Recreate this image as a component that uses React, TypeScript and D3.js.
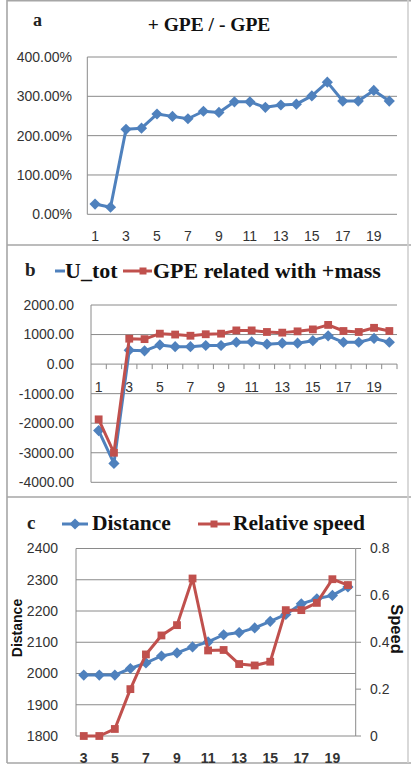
import React from "react";
import * as d3 from "d3";

// ---------- DATA ----------
const catsAB = ["1","2","3","4","5","6","7","8","9","10","11","12","13","14","15","16","17","18","19","20"];
const ratioPct = [26, 18, 216, 219, 255, 249, 243, 262, 259, 286, 286, 272, 278, 280, 301, 336, 288, 288, 315, 288];
const ticksA = [0, 100, 200, 300, 400];

const uTot = [-2250, -3360, 470, 450, 650, 590, 590, 630, 630, 740, 750, 674, 707, 707, 793, 957, 739, 739, 870, 739];
const gpePos = [-1870, -3000, 860, 845, 1030, 1000, 960, 1010, 1030, 1140, 1140, 1087, 1065, 1108, 1174, 1326, 1120, 1087, 1228, 1120];
const ticksB = [-4000, -3000, -2000, -1000, 0, 1000, 2000];

const catsC = ["3","4","5","6","7","8","9","10","11","12","13","14","15","16","17","18","19","20"];
const distance = [1995, 1995, 1995, 2016, 2034, 2056, 2066, 2085, 2101, 2124, 2131, 2146, 2167, 2189, 2223, 2239, 2250, 2277];
const speed = [0, 0, 0.03, 0.2, 0.348, 0.429, 0.473, 0.672, 0.365, 0.367, 0.307, 0.301, 0.317, 0.537, 0.537, 0.568, 0.669, 0.644];
const ticksCL = [1800, 1900, 2000, 2100, 2200, 2300, 2400];
const ticksCR = [0, 0.2, 0.4, 0.6, 0.8];

// ---------- STYLE ----------
const BLUE = "#4F81BD";
const RED = "#C0504D";
const GRID = "#8a8a8a";
const TICKTXT = "#333333";
const SANS = "'Liberation Sans', Arial, sans-serif";
const SERIF = "'Liberation Serif', 'Times New Roman', serif";

const diamond = (x: number, y: number, r = 5.6) => `M${x},${y - r}L${x + r},${y}L${x},${y + r}L${x - r},${y}Z`;

function Series({ xs, ys, color, marker }: { xs: number[]; ys: number[]; color: string; marker: "d" | "s" }) {
  const pts = xs.map((x, i) => [x, ys[i]] as [number, number]);
  const line = d3.line()(pts) || "";
  return (
    <g>
      <path d={line} fill="none" stroke={color} strokeWidth={3} strokeLinejoin="round" />
      {pts.map(([x, y], i) =>
        marker === "d" ? (
          <path key={i} d={diamond(x, y)} fill={color} />
        ) : (
          <rect key={i} x={x - 3.9} y={y - 3.9} width={7.8} height={7.8} fill={color} />
        )
      )}
    </g>
  );
}

function PanelA() {
  const x = d3.scaleBand().domain(catsAB).range([87.3, 397]);
  const y = d3.scaleLinear().domain([0, 400]).range([214.3, 57]);
  const cx = (c: string) => (x(c) as number) + x.bandwidth() / 2;
  return (
    <g>
      <text x={33} y={26} fontFamily={SERIF} fontWeight="bold" fontSize={18} fill="#222">a</text>
      <text x={209} y={31} textAnchor="middle" fontFamily={SERIF} fontWeight="bold" fontSize={19.5} fill="#111">+ GPE / - GPE</text>
      {ticksA.map((t) => (
        <g key={t}>
          <line x1={87.3} x2={397} y1={y(t)} y2={y(t)} stroke={GRID} strokeWidth={1} />
          <text x={72} y={y(t)} dy="0.35em" textAnchor="end" fontFamily={SANS} fontSize={14} fill={TICKTXT}>
            {t.toFixed(2)}%
          </text>
        </g>
      ))}
      <line x1={87.3} x2={87.3} y1={57} y2={214.3} stroke={GRID} />
      {catsAB.map((c, i) =>
        i % 2 === 0 ? (
          <text key={c} x={cx(c)} y={236} dy="0.35em" textAnchor="middle" fontFamily={SANS} fontSize={14} fill={TICKTXT}>{c}</text>
        ) : null
      )}
      <Series xs={catsAB.map(cx)} ys={ratioPct.map((v) => y(v))} color={BLUE} marker="d" />
    </g>
  );
}

function PanelB() {
  const x = d3.scaleBand().domain(catsAB).range([91, 397]);
  const y = d3.scaleLinear().domain([-4000, 2000]).range([482.3, 305]);
  const cx = (c: string) => (x(c) as number) + x.bandwidth() / 2;
  const y0 = y(0);
  return (
    <g>
      <text x={25} y={276} fontFamily={SERIF} fontWeight="bold" fontSize={19} fill="#222">b</text>
      <line x1={55} x2={65} y1={271} y2={271} stroke={BLUE} strokeWidth={3} />
      <text x={65} y={278} fontFamily={SERIF} fontWeight="bold" fontSize={22} fill="#111">U_tot</text>
      <line x1={123} x2={152} y1={271} y2={271} stroke={RED} strokeWidth={3} />
      <rect x={139.5} y={267.5} width={7} height={7} fill={RED} />
      <text x={153} y={278} fontFamily={SERIF} fontWeight="bold" fontSize={22} fill="#111">GPE related with +mass</text>
      {ticksB.map((t) => (
        <g key={t}>
          <line x1={91} x2={397} y1={y(t)} y2={y(t)} stroke={GRID} strokeWidth={1} />
          <text x={74} y={y(t)} dy="0.35em" textAnchor="end" fontFamily={SANS} fontSize={14} fill={TICKTXT}>
            {t.toFixed(2)}
          </text>
        </g>
      ))}
      <line x1={91} x2={91} y1={305} y2={482.3} stroke={GRID} />
      {catsAB.map((c) => (
        <line key={"t" + c} x1={(x(c) as number) + x.bandwidth()} x2={(x(c) as number) + x.bandwidth()} y1={y0} y2={y0 + 5} stroke={GRID} />
      ))}
      {catsAB.map((c, i) =>
        i % 2 === 0 ? (
          <text key={c} x={cx(c)} y={387} dy="0.35em" textAnchor="middle" fontFamily={SANS} fontSize={14} fill={TICKTXT}>{c}</text>
        ) : null
      )}
      <Series xs={catsAB.map(cx)} ys={uTot.map((v) => y(v))} color={BLUE} marker="d" />
      <Series xs={catsAB.map(cx)} ys={gpePos.map((v) => y(v))} color={RED} marker="s" />
    </g>
  );
}

function PanelC() {
  const x = d3.scaleBand().domain(catsC).range([76, 355.7]);
  const yl = d3.scaleLinear().domain([1800, 2400]).range([736, 548.5]);
  const yr = d3.scaleLinear().domain([0, 0.8]).range([736, 548.5]);
  const cx = (c: string) => (x(c) as number) + x.bandwidth() / 2;
  return (
    <g>
      <text x={27} y={529} fontFamily={SERIF} fontWeight="bold" fontSize={19} fill="#222">c</text>
      <line x1={62} x2={88} y1={524} y2={524} stroke={BLUE} strokeWidth={3} />
      <path d={diamond(75, 524)} fill={BLUE} />
      <text x={92} y={530} fontFamily={SERIF} fontWeight="bold" fontSize={21.5} fill="#111">Distance</text>
      <line x1={198} x2={230} y1={524} y2={524} stroke={RED} strokeWidth={3} />
      <rect x={210.5} y={520.5} width={7} height={7} fill={RED} />
      <text x={233} y={530} fontFamily={SERIF} fontWeight="bold" fontSize={21.5} fill="#111">Relative speed</text>
      {ticksCL.map((t) => (
        <g key={t}>
          <line x1={76} x2={355.7} y1={yl(t)} y2={yl(t)} stroke={GRID} strokeWidth={1} />
          <text x={58} y={yl(t)} dy="0.35em" textAnchor="end" fontFamily={SANS} fontSize={14} fill={TICKTXT}>{t}</text>
        </g>
      ))}
      {ticksCR.map((t) => (
        <g key={t}>
          <line x1={355.7} x2={361} y1={yr(t)} y2={yr(t)} stroke={GRID} />
          <text x={370} y={yr(t)} dy="0.35em" fontFamily={SANS} fontSize={14} fill={TICKTXT}>{t}</text>
        </g>
      ))}
      <line x1={76} x2={76} y1={548.5} y2={736} stroke={GRID} />
      <line x1={355.7} x2={355.7} y1={548.5} y2={736} stroke={GRID} />
      {catsC.map((c, i) =>
        i % 2 === 0 ? (
          <text key={c} x={cx(c)} y={758} dy="0.35em" textAnchor="middle" fontFamily={SANS} fontWeight="bold" fontSize={14} fill="#333">{c}</text>
        ) : null
      )}
      <text transform="translate(17,628) rotate(-90)" textAnchor="middle" dy="0.35em" fontFamily={SANS} fontWeight="bold" fontSize={14} fill="#111">Distance</text>
      <text transform="translate(397,629) rotate(90)" textAnchor="middle" dy="0.35em" fontFamily={SANS} fontWeight="bold" fontSize={16.5} fill="#111">Speed</text>
      <Series xs={catsC.map(cx)} ys={distance.map((v) => yl(v))} color={BLUE} marker="d" />
      <Series xs={catsC.map(cx)} ys={speed.map((v) => yr(v))} color={RED} marker="s" />
    </g>
  );
}

export default function App() {
  return (
    <div style={{ position: "absolute", left: 0, top: 0 }}>
      <svg width={411} height={769} style={{ display: "block", background: "#fff" }}>
        <rect x={0} y={0} width={411} height={769} fill="#fff" />
        {/* frames */}
        <g stroke="#a6a6a6" strokeWidth={1.6} fill="none">
          <line x1={7} x2={7} y1={0} y2={763} />
          <line x1={7} x2={411} y1={0.8} y2={0.8} />
          <line x1={7} x2={411} y1={245} y2={245} />
          <line x1={7} x2={411} y1={497} y2={497} />
          <line x1={7} x2={411} y1={763} y2={763} />
          <line x1={408} x2={408} y1={0} y2={763} stroke="#d0d0d0" />
        </g>
        <PanelA />
        <PanelB />
        <PanelC />
      </svg>
    </div>
  );
}
